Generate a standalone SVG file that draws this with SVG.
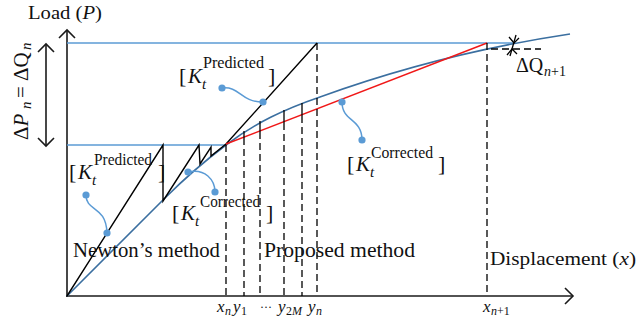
<svg xmlns="http://www.w3.org/2000/svg" width="637" height="326" viewBox="0 0 637 326">
<style>
  .ax{stroke:#1a1a1a;stroke-width:1.6;fill:none}
  .hb{stroke:#5b9bd5;stroke-width:1.6;fill:none}
  .cv{stroke:#3b6fa0;stroke-width:1.6;fill:none}
  .nw{stroke:#000;stroke-width:1.4;fill:none;stroke-linejoin:miter}
  .rd{stroke:#f01818;stroke-width:1.4;fill:none}
  .ds{stroke:#000;stroke-width:1.3;fill:none;stroke-dasharray:7 4}
  .sl{stroke:#000;stroke-width:1.3;fill:none}
  .co{stroke:#5b9bd5;stroke-width:1.5;fill:none}
  .dot{fill:#5b9bd5}
  .ah{stroke:#1a1a1a;stroke-width:1.6;fill:none}
  text{font-family:"Liberation Serif","Times New Roman",serif;fill:#111}
  .it{font-style:italic}
  .big{font-size:22px}
  .kk{font-size:21px;font-style:italic}
  .sup{font-size:16px}
  .sub{font-size:15px;font-style:italic}
  .lab{font-size:21px}
  .tk{font-size:17px}
  .tks{font-size:12px}
</style>

<g id="axes">
  <line class="ax" x1="67" y1="297" x2="67" y2="30"/>
  <line class="ax" x1="66" y1="296" x2="573" y2="296" stroke-width="2"/>
  <polyline class="ah" points="59,38 67,30 75,38"/>
  <polyline class="ah" points="565,288 573,296 565,304"/>
</g>

<g id="load-levels">
  <line class="hb" x1="67" y1="43" x2="514" y2="43"/>
  <line class="hb" x1="67" y1="145" x2="226" y2="145"/>
</g>

<g id="connectors">
  <line class="ah" x1="46" y1="44" x2="46" y2="146"/>
  <polyline class="ah" points="38,52 46,44 54,52"/>
  <polyline class="ah" points="38,138 46,146 54,138"/>
  <path class="cv" d="M67,296 L165,198 C185,178 206,160 226,145 C256,122.5 285,109 320,97 C400,68 490,46 570,34"/>
  <polyline class="nw" points="67,296 163,145 163,201 199,145 200,164 211,147 211,156 226,144 317,43"/>
  <line class="rd" x1="226" y1="144" x2="487" y2="43"/>
  <line class="ds" x1="226" y1="145" x2="226" y2="296"/>
  <line class="sl" x1="244" y1="131" x2="244" y2="138"/>
  <line class="ds" x1="244" y1="138" x2="244" y2="296"/>
  <line class="sl" x1="260" y1="121" x2="260" y2="132"/>
  <line class="ds" x1="260" y1="132" x2="260" y2="296"/>
  <line class="sl" x1="284" y1="110" x2="284" y2="123"/>
  <line class="ds" x1="284" y1="123" x2="284" y2="296"/>
  <line class="sl" x1="302" y1="103" x2="302" y2="116"/>
  <line class="ds" x1="302" y1="116" x2="302" y2="296"/>
  <line class="ds" x1="317" y1="43" x2="317" y2="296"/>
  <line class="ds" x1="487" y1="43" x2="487" y2="296"/>
  <line class="ds" x1="491" y1="49" x2="541" y2="49" stroke-dasharray="6 5"/>
  <line class="sl" x1="516" y1="35" x2="510" y2="56"/>
  <polyline class="sl" points="509,37 514,43 519,38"/>
  <polyline class="sl" points="507,55 512,49 517,54"/>
  <path class="co" d="M222,88 C240,86 240,102 263,102"/>
  <circle class="dot" cx="222" cy="88" r="3.6"/>
  <circle class="dot" cx="263" cy="102" r="3.6"/>
  <path class="co" d="M86,195 C86,212 106,205 107,233"/>
  <circle class="dot" cx="86" cy="195" r="3.6"/>
  <circle class="dot" cx="107" cy="233" r="3.6"/>
  <path class="co" d="M188,172 C205,168 215,180 215,192"/>
  <circle class="dot" cx="188" cy="172" r="3.6"/>
  <circle class="dot" cx="215" cy="192" r="3.6"/>
  <path class="co" d="M342,102 C342,122 362,118 362,140"/>
  <circle class="dot" cx="342" cy="102" r="3.6"/>
  <circle class="dot" cx="362" cy="140" r="3.6"/>
</g>

<g id="axis-titles">
  <text x="28" y="19" font-size="18" textLength="74" lengthAdjust="spacingAndGlyphs">Load (<tspan class="it">P</tspan>)</text>
  <text x="490" y="265" font-size="19" textLength="146" lengthAdjust="spacingAndGlyphs">Displacement (<tspan class="it">x</tspan>)</text>
  <g transform="translate(28,140) rotate(-90)">
    <text x="0" y="0" font-size="21">Δ<tspan class="it">P</tspan></text>
    <text x="31" y="3" font-size="15" class="it">n</text>
    <text x="42" y="0" font-size="21">=</text>
    <text x="59" y="0" font-size="21">ΔQ</text>
    <text x="90" y="3" font-size="15" class="it">n</text>
  </g>
</g>

<g id="label-predicted-upper">
  <text class="big" x="179" y="83">[</text>
  <text class="kk" x="188" y="83">K</text>
  <text class="sub" x="202" y="89">t</text>
  <text class="sup" x="203" y="68" textLength="61" lengthAdjust="spacingAndGlyphs">Predicted</text>
  <text class="big" x="268" y="83">]</text>
</g>

<g id="label-predicted-lower">
  <text class="big" x="69" y="179">[</text>
  <text class="kk" x="78" y="179">K</text>
  <text class="sub" x="92" y="185">t</text>
  <text class="sup" x="94" y="165" textLength="58" lengthAdjust="spacingAndGlyphs">Predicted</text>
  <text class="big" x="158" y="179">]</text>
</g>

<g id="label-corrected-lower">
  <text class="big" x="172" y="220">[</text>
  <text class="kk" x="181" y="220">K</text>
  <text class="sub" x="195" y="226">t</text>
  <text class="sup" x="200" y="207" textLength="60" lengthAdjust="spacingAndGlyphs">Corrected</text>
  <text class="big" x="266" y="220">]</text>
</g>

<g id="label-corrected-right">
  <text class="big" x="347" y="171">[</text>
  <text class="kk" x="356" y="171">K</text>
  <text class="sub" x="370" y="177">t</text>
  <text class="sup" x="371" y="158" textLength="62" lengthAdjust="spacingAndGlyphs">Corrected</text>
  <text class="big" x="438" y="171">]</text>
</g>

<g id="method-labels">
  <text class="lab" x="73" y="257" textLength="147" lengthAdjust="spacingAndGlyphs">Newton’s method</text>
  <text class="lab" x="264" y="257" textLength="151" lengthAdjust="spacingAndGlyphs">Proposed method</text>
</g>

<g id="tick-labels">
  <text class="tk it" x="217" y="312">x</text>
  <text class="tks it" x="225" y="315">n</text>
  <text class="tk it" x="233" y="312">y</text>
  <text class="tks" x="241" y="315">1</text>
  <text x="260" y="311" font-size="13" textLength="12" lengthAdjust="spacingAndGlyphs">···</text>
  <text class="tk it" x="278" y="312">y</text>
  <text class="tks" x="286" y="315">2<tspan class="it">M</tspan></text>
  <text class="tk it" x="308" y="312">y</text>
  <text class="tks it" x="316" y="315">n</text>
  <text class="tk it" x="483" y="312">x</text>
  <text class="tks it" x="491" y="315">n<tspan font-style="normal">+1</tspan></text>
</g>

<g id="label-dq">
  <text x="516" y="72" font-size="20">ΔQ</text>
  <text x="544" y="76" font-size="14" class="it">n<tspan font-style="normal">+1</tspan></text>
</g>
</svg>
